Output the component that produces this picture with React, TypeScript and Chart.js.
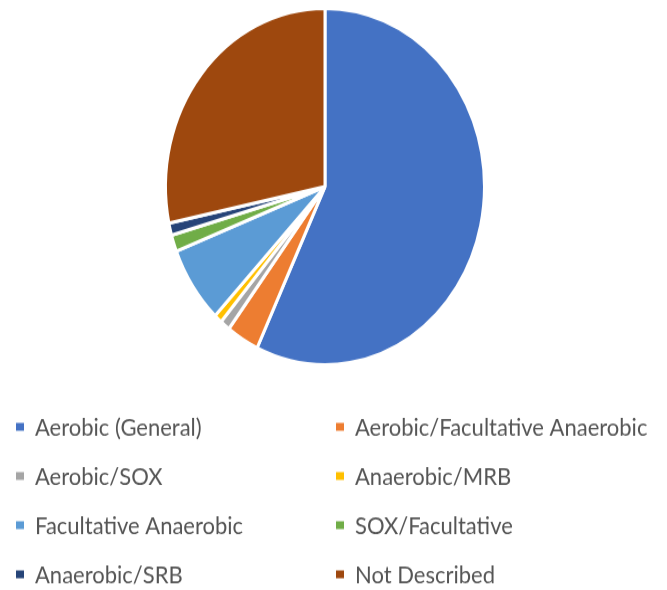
import React, { useEffect, useRef } from "react";
import { Chart, registerables } from "chart.js";

Chart.register(...registerables);

// Share of isolates by metabolic group (%)
const categories = [
  "Aerobic (General)",
  "Aerobic/Facultative Anaerobic",
  "Aerobic/SOX",
  "Anaerobic/MRB",
  "Facultative Anaerobic",
  "SOX/Facultative",
  "Anaerobic/SRB",
  "Not Described",
];
const shares = [57.0, 3.3, 1.0, 0.8, 7.0, 1.5, 1.1, 28.3];
const sliceColors = [
  "#4472C4",
  "#ED7D31",
  "#A5A5A5",
  "#FFC000",
  "#5B9BD5",
  "#70AD47",
  "#264478",
  "#9E480E",
];

// Drawing surface is rendered at 667x528 and shown at 667x590.
const DRAW_W = 667;
const DRAW_H = 528;

// Two-column legend under the pie, laid out from the chart's own labels and colours.
const gridLegend = {
  id: "gridLegend",
  afterDraw(chart: Chart) {
    const ctx = chart.ctx;
    const labels = (chart.data.labels || []) as string[];
    const colors = chart.data.datasets[0].backgroundColor as string[];
    const colX = [16, 336];
    const textOffset = 19;
    const rowTop = 382;
    const rowGap = 44;
    ctx.save();
    ctx.font = "22px Lato";
    ctx.textBaseline = "middle";
    ctx.textAlign = "left";
    labels.forEach((label, i) => {
      const col = i % 2;
      const row = Math.floor(i / 2);
      const x = colX[col];
      const y = rowTop + row * rowGap;
      ctx.fillStyle = colors[i];
      ctx.fillRect(x, y - 3.5, 8, 7);
      ctx.fillStyle = "#555555";
      ctx.fillText(label, x + textOffset, y + 1);
    });
    ctx.restore();
  },
};

export default function App() {
  const canvasRef = useRef<HTMLCanvasElement | null>(null);

  useEffect(() => {
    if (!canvasRef.current) return;
    const chart = new Chart(canvasRef.current, {
      type: "pie",
      data: {
        labels: categories,
        datasets: [
          {
            data: shares,
            backgroundColor: sliceColors,
            borderColor: "#FFFFFF",
            borderWidth: 3,
          },
        ],
      },
      options: {
        responsive: false,
        animation: false,
        devicePixelRatio: 1,
        radius: 159.5,
        layout: { padding: { left: 0, right: 17, top: 0, bottom: 194 } },
        plugins: {
          legend: { display: false },
          tooltip: { enabled: false },
          title: { display: false },
        },
      },
      plugins: [gridLegend],
    });
    return () => chart.destroy();
  }, []);

  return (
    <canvas
      ref={canvasRef}
      width={DRAW_W}
      height={DRAW_H}
      style={{
        position: "absolute",
        left: 0,
        top: 0,
        width: "667px",
        height: "590px",
        background: "#FFFFFF",
      }}
    />
  );
}
